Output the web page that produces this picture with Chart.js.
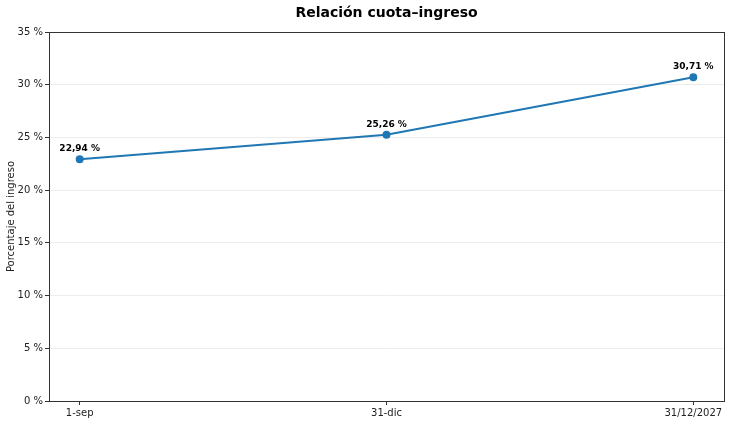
<!DOCTYPE html>
<html>
<head>
<meta charset="utf-8">
<script src="https://cdn.jsdelivr.net/npm/chart.js@4"></script>
<style>
  html, body { margin: 0; padding: 0; background: #fff; }
  #wrap { width: 730px; height: 423px; }
</style>
</head>
<body>
<div id="wrap"><canvas id="chart"></canvas></div>
<script>
const fechas = ['1-sep', '31-dic', '31/12/2027'];
const cuotaIngreso = [22.94, 25.26, 30.71];
const yTicks = [0, 5, 10, 15, 20, 25, 30, 35];
const titulo = 'Relación cuota–ingreso';

const fmt = v => v.toFixed(2).replace('.', ',') + ' %';

// box around the plot area + title centred on it, like matplotlib
const frame = {
  id: 'frame',
  afterDraw(chart) {
    const { ctx, chartArea: a } = chart;
    ctx.save();
    ctx.strokeStyle = '#333';
    ctx.lineWidth = 1;
    ctx.strokeRect(a.left + 0.5, a.top + 0.5, a.right - a.left, a.bottom - a.top);
    ctx.font = 'bold 14px "DejaVu Sans"';
    ctx.fillStyle = '#000';
    ctx.textAlign = 'center';
    ctx.textBaseline = 'middle';
    ctx.fillText(titulo, (a.left + a.right) / 2, 13);
    ctx.restore();
  }
};

// value labels above each point
const pointLabels = {
  id: 'pointLabels',
  afterDatasetsDraw(chart) {
    const { ctx } = chart;
    const meta = chart.getDatasetMeta(0);
    ctx.save();
    ctx.font = 'bold 9px "DejaVu Sans"';
    ctx.fillStyle = '#000';
    ctx.textAlign = 'center';
    ctx.textBaseline = 'bottom';
    meta.data.forEach((pt, i) => {
      ctx.fillText(fmt(cuotaIngreso[i]), pt.x, pt.y - 6);
    });
    ctx.restore();
  }
};

new Chart(document.getElementById('chart'), {
  type: 'line',
  data: {
    datasets: [{
      label: titulo,
      data: cuotaIngreso.map((v, i) => ({ x: i, y: v })),
      borderColor: '#1f77b4',
      backgroundColor: '#1f77b4',
      borderWidth: 2,
      pointRadius: 3,
      pointHoverRadius: 3,
      tension: 0
    }]
  },
  options: {
    responsive: true,
    maintainAspectRatio: false,
    animation: false,
    layout: { padding: { top: 32, right: 6, bottom: 0, left: 0 } },
    plugins: {
      legend: { display: false },
      tooltip: { enabled: false },
      title: { display: false }
    },
    scales: {
      x: {
        type: 'linear',
        min: -0.1,
        max: 2.1,
        afterBuildTicks: s => { s.ticks = fechas.map((_, i) => ({ value: i })); },
        afterFit: s => { s.height = 22; },
        ticks: {
          callback: v => fechas[v],
          color: '#222',
          font: { family: 'DejaVu Sans', size: 10 },
          padding: 2,
          maxRotation: 0
        },
        grid: { drawOnChartArea: false, tickColor: '#333', tickLength: 4 },
        border: { display: false }
      },
      y: {
        min: 0,
        max: 35,
        afterBuildTicks: s => { s.ticks = yTicks.map(v => ({ value: v })); },
        afterFit: s => { s.width = 49; },
        ticks: {
          callback: v => v + ' %',
          color: '#222',
          font: { family: 'DejaVu Sans', size: 10 },
          padding: 2
        },
        grid: { color: '#ececec', tickColor: '#333', tickLength: 4 },
        border: { display: false },
        title: {
          display: true,
          text: 'Porcentaje del ingreso',
          color: '#222',
          font: { family: 'DejaVu Sans', size: 10 },
          padding: { top: 5, bottom: 0 }
        }
      }
    }
  },
  plugins: [frame, pointLabels]
});
</script>
</body>
</html>
